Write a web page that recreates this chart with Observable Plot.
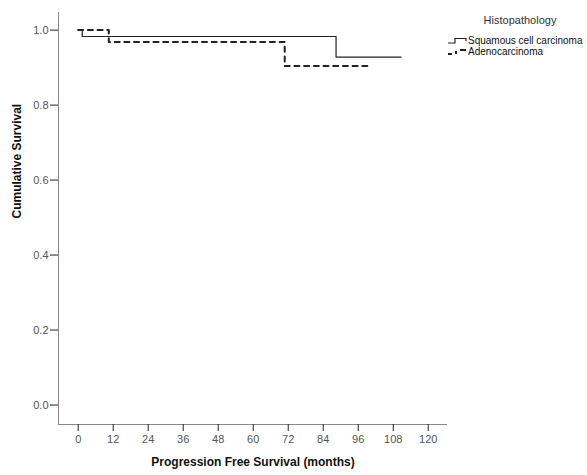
<!DOCTYPE html>
<html>
<head>
<meta charset="utf-8">
<script src="https://cdn.jsdelivr.net/npm/d3@7"></script>
<script src="https://cdn.jsdelivr.net/npm/@observablehq/plot@0.6"></script>
<style>
  html, body { margin: 0; padding: 0; background: #fff; }
  #chart { position: relative; width: 587px; height: 475px; }
  svg { font-family: "Liberation Sans", Arial, sans-serif; }
</style>
</head>
<body>
<div id="chart"></div>
<script>
// Data
const groups = ["Squamous cell carcinoma", "Adenocarcinoma"];
const squamousMonths = [0, 1.4, 88.4, 110.7];
const squamousSurvival = [1.0, 0.983, 0.928, 0.928];
const adenoMonths = [0, 10.5, 70.8, 100.7];
const adenoSurvival = [1.0, 0.968, 0.904, 0.904];
const xTicks = [0, 12, 24, 36, 48, 60, 72, 84, 96, 108, 120];
const yTicks = [0.0, 0.2, 0.4, 0.6, 0.8, 1.0];
const xLabel = "Progression Free Survival (months)";
const yLabel = "Cumulative Survival";
const legendTitle = "Histopathology";

const sq = squamousMonths.map((m, i) => ({group: groups[0], month: m, surv: squamousSurvival[i]}));
const ad = adenoMonths.map((m, i) => ({group: groups[1], month: m, surv: adenoSurvival[i]}));

const xDomain = [-6.75, 126.6];
const yDomain = [-0.052, 1.047];

const plot = Plot.plot({
  width: 587,
  height: 475,
  marginLeft: 58,
  marginRight: 140,
  marginTop: 12,
  marginBottom: 51,
  style: {fontFamily: "'Liberation Sans', Arial, sans-serif", background: "#fff"},
  x: {domain: xDomain},
  y: {domain: yDomain},
  marks: [
    Plot.ruleX([xDomain[0]], {stroke: "#888", strokeWidth: 1}),
    Plot.ruleY([yDomain[0]], {stroke: "#888", strokeWidth: 1}),
    Plot.axisY(yTicks, {tickFormat: d3.format(".1f"), tickSize: 8, tickPadding: 2, fontSize: 11, stroke: "#222", fill: "#555", label: null}),
    Plot.axisX(xTicks, {tickSize: 7, tickPadding: 4, fontSize: 11, stroke: "#222", fill: "#555", label: null}),
    Plot.line(sq, {x: "month", y: "surv", curve: "step-after", stroke: "#222", strokeWidth: 1.2}),
    Plot.line(ad, {x: "month", y: "surv", curve: "step-after", stroke: "#222", strokeWidth: 2, strokeDasharray: "5,4.7"}),
    Plot.text([yLabel], {text: d => d, frameAnchor: "left", dx: -41, rotate: -90, fontSize: 12, fontWeight: "bold", fill: "#111"}),
    Plot.text([xLabel], {text: d => d, frameAnchor: "bottom", dy: 41, fontSize: 12, fontWeight: "bold", fill: "#111"})
  ]
});

document.getElementById("chart").appendChild(plot);

// Legend (right of the plot frame)
const svg = d3.select(plot);
const lg = svg.append("g").attr("font-family", "'Liberation Sans', Arial, sans-serif").attr("text-anchor", "start");
lg.append("text").attr("x", 520).attr("y", 24).attr("text-anchor", "middle")
  .attr("font-size", 11).attr("fill", "#333").text(legendTitle);
lg.append("path").attr("d", "M448,43H455V38.5H466V41").attr("fill", "none").attr("stroke", "#222").attr("stroke-width", 1.2);
lg.append("text").attr("x", 468).attr("y", 44).attr("font-size", 10).attr("fill", "#111").text(groups[0]);
lg.append("path").attr("d", "M448,54H452M456,54V51M460,50H466").attr("fill", "none").attr("stroke", "#222").attr("stroke-width", 2);
lg.append("text").attr("x", 468).attr("y", 55).attr("font-size", 10).attr("fill", "#111").text(groups[1]);
</script>
</body>
</html>
